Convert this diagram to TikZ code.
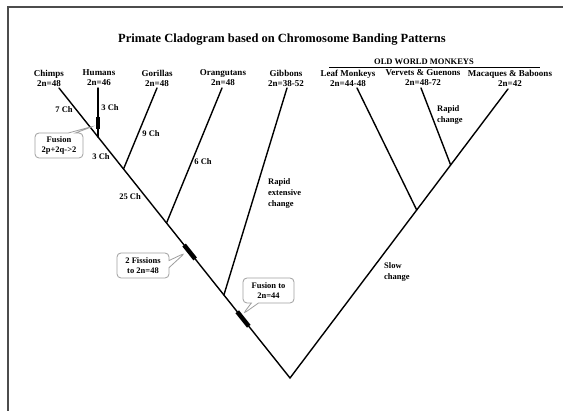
\documentclass[tikz,border=0pt]{standalone}
\usepackage{fontspec}
\setmainfont{Liberation Serif}
\usetikzlibrary{calc,shapes.callouts}
\tikzset{
  branch/.style={line width=1.4pt, line cap=round},
  chrombar/.style={line width=4.5pt},
  taxon/.style={font=\fontsize{9}{10}\selectfont\bfseries, align=center, inner sep=0pt},
  note/.style={font=\fontsize{8.5}{11}\selectfont\bfseries, inner sep=0pt, align=left},
  bubble/.style={rectangle callout, rounded corners=4pt, draw=gray!75, line width=0.8pt,
    align=center, font=\fontsize{8.5}{10.5}\selectfont\bfseries, inner sep=1pt, minimum height=25pt},
  framestyle/.style={draw=black!70, line width=2pt}
}
\begin{document}
\begin{tikzpicture}[x=1pt,y=-1pt]
\useasboundingbox (0,0) rectangle (563,411);
\fill[white] (0,0) rectangle (563,411);
% frame
\coordinate (fbl) at (8,411);
\coordinate (ftl) at (8,7);
\coordinate (ftr) at (563,7);
\draw[framestyle] (fbl) -- (ftl) -- (ftr);
% title
\node[font=\fontsize{12.5}{14}\selectfont\bfseries] (title) at (282,40) {Primate Cladogram based on Chromosome Banding Patterns};
% OWM header
\node[font=\fontsize{8.5}{10}\selectfont\bfseries, inner sep=0pt] (owm) at (424,62) {OLD WORLD MONKEYS};
\coordinate (owmL) at (329,67);
\coordinate (owmR) at (540,67);
\draw[line width=0.8pt] (owmL) -- (owmR);
% taxa labels
\node[taxon] (chimps) at (49,78) {Chimps\\2n=48};
\node[taxon] (humans) at (99,78) {Humans\\2n=46};
\node[taxon] (gorillas) at (157,78) {Gorillas\\2n=48};
\node[taxon] (orang) at (223,78) {Orangutans\\2n=48};
\node[taxon] (gibbons) at (286,78) {Gibbons\\2n=38-52};
\node[taxon] (leaf) at (348,78) {Leaf Monkeys\\2n=44-48};
\node[taxon] (vervets) at (423,78) {Vervets \& Guenons\\2n=48-72};
\node[taxon] (macaques) at (510,78) {Macaques \& Baboons\\2n=42};
% tree coordinates
\coordinate (root) at (290,378);
\coordinate (chimpT) at (59,88);
\coordinate (macT) at (508,89);
\coordinate (hj) at ($(root)!0.831!(chimpT)$);
\coordinate (gj) at ($(root)!0.7207!(chimpT)$);
\coordinate (oj) at ($(root)!0.5345!(chimpT)$);
\coordinate (gbj) at ($(root)!0.2862!(chimpT)$);
\coordinate (humT) at (hj |- chimpT);
\coordinate (gorT) at (157,88);
\coordinate (oraT) at (222,88);
\coordinate (gibT) at (287,88);
\coordinate (lj) at ($(root)!0.5813!(macT)$);
\coordinate (vj) at ($(root)!0.737!(macT)$);
\coordinate (leafT) at (357,88);
\coordinate (verT) at (421,88);
% branches
\draw[branch] (chimpT) -- (root) -- (macT);
\draw[branch] (hj) -- (humT);
\draw[branch] (gj) -- (gorT);
\draw[branch] (oj) -- (oraT);
\draw[branch] (gbj) -- (gibT);
\draw[branch] (lj) -- (leafT);
\draw[branch] (vj) -- (verT);
% chromosome bars
\coordinate (hb1) at ($(humT)+(0,29)$);
\coordinate (hb2) at ($(humT)+(0,41)$);
\draw[chrombar] (hb1) -- (hb2);
\coordinate (fb1) at ($(root)!0.4105!(chimpT)$);
\coordinate (fb2) at ($(root)!0.4585!(chimpT)$);
\draw[chrombar] (fb1) -- (fb2);
\coordinate (ub1) at ($(root)!0.1784!(chimpT)$);
\coordinate (ub2) at ($(root)!0.2284!(chimpT)$);
\draw[chrombar] (ub1) -- (ub2);
% callouts
\node[bubble, minimum width=48pt, callout absolute pointer={(94,126)}] (c1) at (59,145.5) {Fusion\\2p+2q->2};
\node[bubble, minimum width=52pt, callout absolute pointer={(185,253)}] (c2) at (143,265.5) {2 Fissions\\to 2n=48};
\node[bubble, minimum width=51pt, callout absolute pointer={(243,314)}] (c3) at (268.5,290.5) {Fusion to\\2n=44};
% branch notes
\node[note] (n7) at (64,110) {7 Ch};
\node[note] (n3a) at (110,108) {3 Ch};
\node[note] (n9) at (151,134) {9 Ch};
\node[note] (n3b) at (101,157) {3 Ch};
\node[note] (n25) at (130,197) {25 Ch};
\node[note] (n6) at (203,162) {6 Ch};
\node[note, anchor=west] (nrapid1) at (268,193) {Rapid\\extensive\\change};
\node[note, anchor=west] (nrapid2) at (437,114.5) {Rapid\\change};
\node[note, anchor=west] (nslow) at (384,271.5) {Slow\\change};
\end{tikzpicture}
\end{document}
